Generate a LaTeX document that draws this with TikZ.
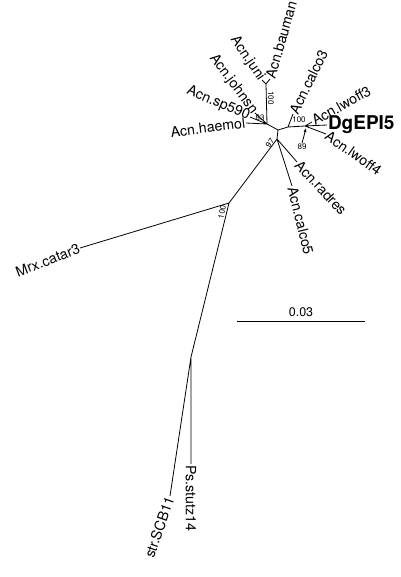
\documentclass[tikz,border=0pt]{standalone}
\usepackage{fontspec}
\setmainfont{TeX Gyre Heros}
\usepackage{tikz}
\usetikzlibrary{arrows.meta,calc}

\begin{document}
\begin{tikzpicture}[x=1pt,y=-1pt,
              br/.style={line width=0.8pt},
              leaf/.style={font=\fontsize{14.2}{16}\selectfont,inner sep=0.8pt},
              boot/.style={font=\fontsize{8}{9}\selectfont,inner sep=0.5pt}]
              \useasboundingbox (0,0) rectangle (400,577);
              \coordinate (n1) at (229,203);
              \coordinate (n2) at (191,357);
              \coordinate (n3) at (277,139);
              \coordinate (n4) at (278,130);
              \coordinate (n5) at (267,124);
              \coordinate (n7) at (266,84);
              \coordinate (cc) at (288,127);
              \coordinate (n6) at (305,126);
              \coordinate (mrx) at (80,248);
              \coordinate (stz) at (191,464);
              \coordinate (scb) at (170,496);
              \coordinate (hae) at (246,123);
              \coordinate (sp) at (250,117);
              \coordinate (joh) at (255,113);
              \coordinate (jun) at (262,80);
              \coordinate (bau) at (270,79);
              \coordinate (ca3) at (293,114);
              \coordinate (lw3) at (312,122);
              \coordinate (dg) at (327,125);
              \coordinate (lw4) at (326,134);
              \coordinate (rad) at (297,162);
              \coordinate (ca5) at (292,186);
              \coordinate (sbl) at (237,321);
              \coordinate (sbr) at (365,321);
              \draw[br] (n1)--(mrx) (n1)--(n2) (n1)--(n3) (n2)--(stz) (n2)--(scb)
              (n3)--(n4) (n3)--(rad) (n3)--(ca5) (n4)--(n5) (n4)--(cc) (cc)--(n6)
              (cc)--(ca3) (n5)--(hae) (n5)--(sp) (n5)--(joh) (n5)--(n7)
              (n7)--(jun) (n7)--(bau) (n6)--(lw3) (n6)--(dg) (n6)--(lw4);
              \draw[br] (sbl)--(sbr);
              \node[leaf,anchor=east,rotate=21] (lmrx) at (mrx) {Mrx.catar3};
              \node[leaf,anchor=west,rotate=-90] (lstz) at (stz) {Ps.stutz14};
              \node[leaf,anchor=east,rotate=71] (lscb) at (scb) {str.SCB11};
              \node[leaf,anchor=east,rotate=7] (lhae) at (hae) {Acn.haemol};
              \node[leaf,anchor=east,rotate=-23] (lsp) at (sp) {Acn.sp590};
              \node[leaf,anchor=east,rotate=-53] (ljoh) at (joh) {Acn.johnsn};
              \node[leaf,anchor=east,rotate=-56] (ljun) at (jun) {Acn.juni};
              \node[leaf,anchor=west,rotate=74] (lbau) at (bau) {Acn.bauman};
              \node[leaf,anchor=west,rotate=64] (lca3) at (ca3) {Acn.calco3};
              \node[leaf,anchor=west,rotate=29] (llw3) at (lw3) {Acn.lwoff3};
              \node[leaf,anchor=west,font=\fontsize{19}{21}\selectfont\bfseries] (ldg) at (dg) {DgEPI5};
              \node[leaf,anchor=west,rotate=-35] (llw4) at (lw4) {Acn.lwoff4};
              \node[leaf,anchor=west,rotate=-47] (lrad) at (rad) {Acn.radres};
              \node[leaf,anchor=west,rotate=-76] (lca5) at (ca5) {Acn.calco5};
              \node[boot,rotate=-90] (b7) at (271,98) {100};
              \node[boot] (b5) at (260,118) {83};
              \node[boot] (b6) at (299,120) {100};
              \node[boot] (b89) at (302,147) {89};
              \node[boot,rotate=55] (b3) at (270,143) {97};
              \node[boot,rotate=78] (b1) at (222,212) {100};
              \draw[br,-{Latex[length=4pt,width=3pt]}] (b89.north)--(306,128);
              \node[font=\fontsize{12.5}{14}\selectfont,above=1pt] (sbt) at ($(sbl)!0.5!(sbr)$) {0.03};
\end{tikzpicture}
\end{document}
